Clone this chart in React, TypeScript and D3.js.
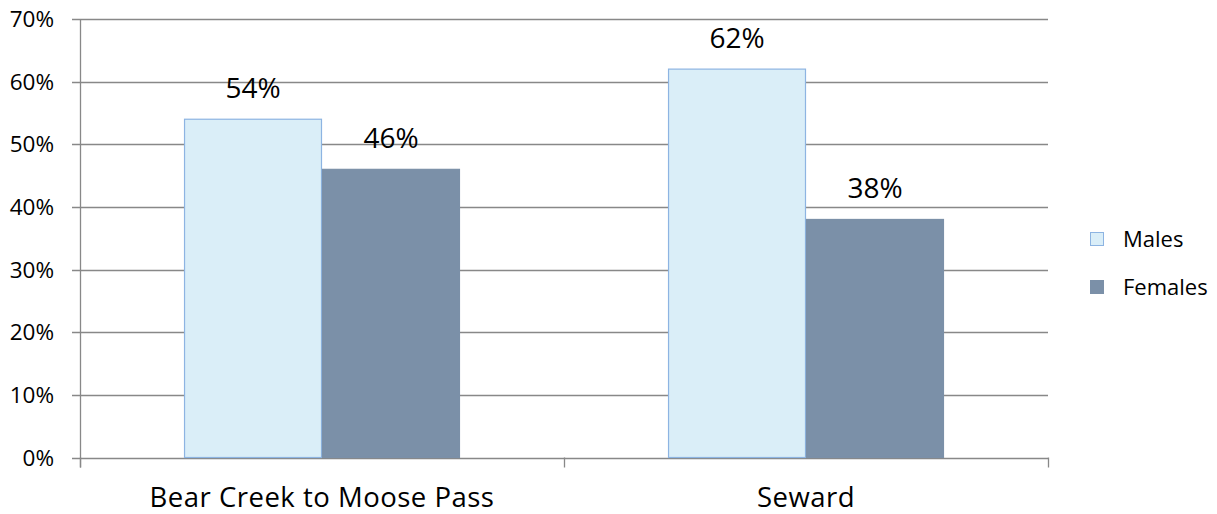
import React from "react";
import * as d3 from "d3";

const categories = ["Bear Creek to Moose Pass", "Seward"];
const seriesNames = ["Males", "Females"];
const males = [54, 62];
const females = [46, 38];
const yTicks = [0, 10, 20, 30, 40, 50, 60, 70];

const W = 1217;
const H = 514;
const margin = { left: 80, right: 169, top: 19, bottom: 56 };
const FONT = "'Open Sans', Lato, sans-serif";
const colors = { Males: "#DAEEF8", Females: "#7B90A8" };
const strokes = { Males: "#8DB4E2", Females: "#7B90A8" };

export default function App() {
  const x0 = d3
    .scaleBand<string>()
    .domain(categories)
    .range([margin.left, W - margin.right])
    .paddingInner(0)
    .paddingOuter(0);
  const x1 = d3
    .scaleBand<string>()
    .domain(seriesNames)
    .range([0, x0.bandwidth()])
    .paddingInner(0)
    .paddingOuter(0.754);
  const y = d3
    .scaleLinear()
    .domain([0, 70])
    .range([H - margin.bottom - 0.5, margin.top]);

  const values: Record<string, number[]> = { Males: males, Females: females };
  const x0Ticks = [margin.left, ...categories.map((c) => (x0(c) as number) + x0.bandwidth())];

  return (
    <svg
      width={W}
      height={H}
      style={{ position: "absolute", left: 0, top: 0, background: "#fff" }}
      fontFamily={FONT}
    >
      {yTicks.map((t) => (
        <g key={t}>
          <line
            x1={margin.left - 8}
            x2={W - margin.right}
            y1={Math.round(y(t)) + 0.5}
            y2={Math.round(y(t)) + 0.5}
            stroke="#888"
            strokeWidth={1.3}
          />
          <text
            x={54}
            y={Math.round(y(t)) + 8}
            textAnchor="end"
            fontSize={22.5}
            fill="#000"
          >
            {t}%
          </text>
        </g>
      ))}
      <line
        x1={margin.left + 0.5}
        x2={margin.left + 0.5}
        y1={margin.top}
        y2={y(0) + 10}
        stroke="#888"
        strokeWidth={1.3}
      />
      {x0Ticks.map((t, i) => (
        <line
          key={i}
          x1={t + 0.5}
          x2={t + 0.5}
          y1={y(0)}
          y2={y(0) + 10}
          stroke="#888"
          strokeWidth={1.3}
        />
      ))}
      {categories.map((c, ci) => (
        <g key={c}>
          {seriesNames.map((s) => {
            const v = values[s][ci];
            const bx = (x0(c) as number) + (x1(s) as number);
            return (
              <g key={s}>
                <rect
                  x={bx + 0.5}
                  y={y(v)}
                  width={x1.bandwidth() - 1}
                  height={y(0) - y(v)}
                  fill={colors[s as keyof typeof colors]}
                  stroke={strokes[s as keyof typeof strokes]}
                  strokeWidth={1.2}
                />
                <text
                  x={bx + x1.bandwidth() / 2}
                  y={y(v) - 21}
                  textAnchor="middle"
                  fontSize={28}
                  fill="#000"
                >
                  {v}%
                </text>
              </g>
            );
          })}
          <text
            x={(x0(c) as number) + x0.bandwidth() / 2}
            y={507}
            textAnchor="middle"
            fontSize={27.5}
            letterSpacing={0.5}
            fill="#000"
          >
            {c}
          </text>
        </g>
      ))}
      {seriesNames.map((s, i) => (
        <g key={s} transform={`translate(1090, ${232 + i * 48})`}>
          <rect
            x={0.5}
            y={0.5}
            width={13}
            height={13}
            fill={colors[s as keyof typeof colors]}
            stroke={strokes[s as keyof typeof strokes]}
          />
          <text x={33} y={15} fontSize={22} fill="#000">
            {s}
          </text>
        </g>
      ))}
    </svg>
  );
}
